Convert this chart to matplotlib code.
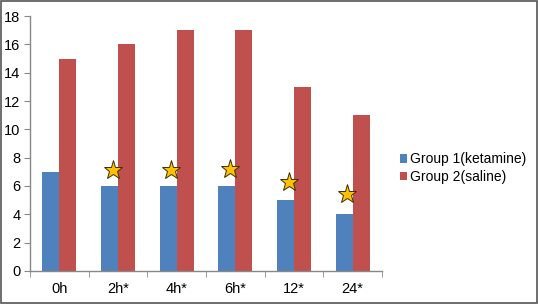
import numpy as np
import matplotlib.pyplot as plt
from matplotlib.patches import Rectangle

plt.rcParams['font.family'] = ['Liberation Sans', 'DejaVu Sans']

categories = ["0h", "2h*", "4h*", "6h*", "12*", "24*"]
ketamine = [7, 6, 6, 6, 5, 4]
saline = [15, 16, 17, 17, 13, 11]
star_y = [None, 7.1, 7.1, 7.2, 6.3, 5.4]

fig = plt.figure(figsize=(5.38, 3.04), dpi=100)
ax = fig.add_axes([0.056, 0.109, 0.654, 0.838])

x = np.arange(len(categories))
w = 0.29
b1 = ax.bar(x - w / 2, ketamine, w, color='#4F81BD', label='Group 1(ketamine)')
b2 = ax.bar(x + w / 2, saline, w, color='#C0504D', label='Group 2(saline)')

# stars marking significance
for xi, sy in zip(x, star_y):
    if sy is not None:
        ax.plot(xi - 0.09, sy, marker='*', markersize=14, color='#FFC000',
                markeredgecolor='#3a3000', markeredgewidth=0.7, zorder=5)

ax.set_xlim(-0.5, len(categories) - 0.5)
ax.set_ylim(0, 18)
ax.set_yticks(range(0, 19, 2))
ax.set_xticks(x)
ax.set_xticklabels(categories)
ax.set_xticks(np.arange(-0.5, len(categories)), minor=True)
ax.tick_params(axis='x', which='major', length=0, labelsize=10.5, pad=8)
ax.tick_params(axis='x', which='minor', length=4, color='#888888', direction='out')
ax.tick_params(axis='y', length=4, color='#888888', labelsize=10.5, pad=3)

for s in ['top', 'right']:
    ax.spines[s].set_visible(False)
for s in ['left', 'bottom']:
    ax.spines[s].set_color('#888888')
    ax.spines[s].set_linewidth(1.0)

fig.legend(handles=[b1, b2], loc='upper left', bbox_to_anchor=(0.72, 0.54),
           frameon=False, fontsize=10, handlelength=0.55, handleheight=0.55,
           handletextpad=0.2, labelspacing=0.25)

fig.patches.append(Rectangle((0.002, 0.003), 0.996, 0.994, transform=fig.transFigure,
                             fill=False, edgecolor='#555555', linewidth=1.2))

fig.savefig("out.png", dpi=100)
